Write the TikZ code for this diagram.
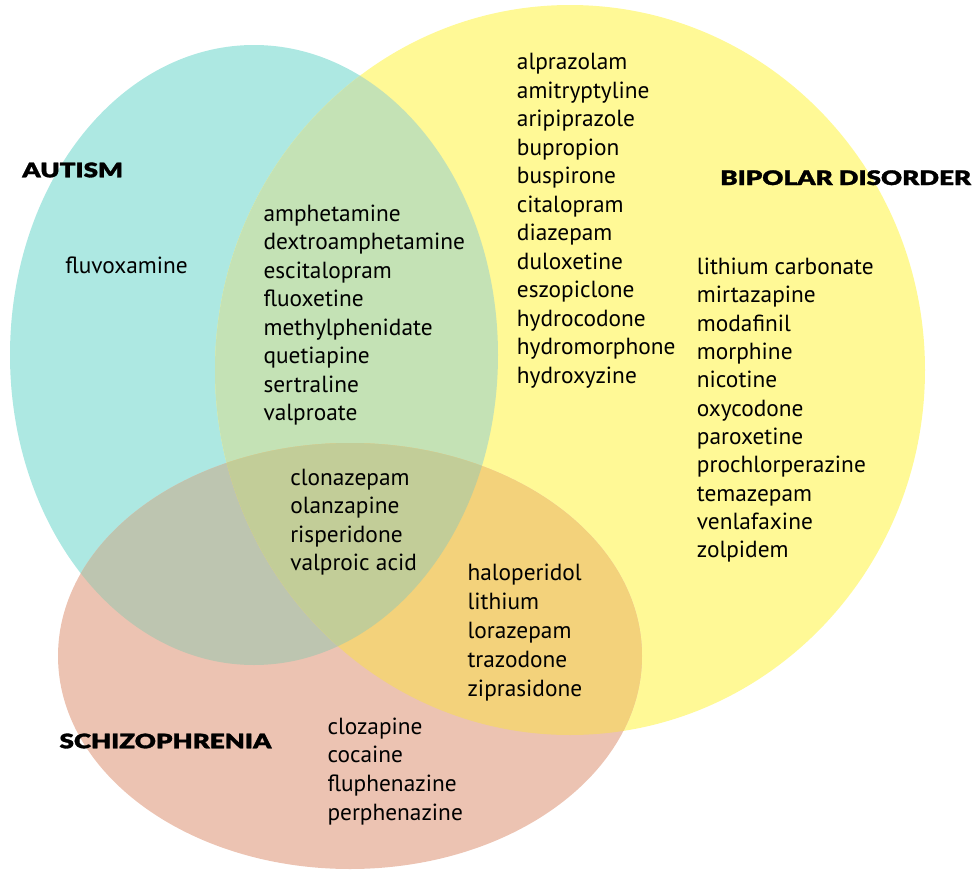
\documentclass[tikz,border=0pt]{standalone}
\usepackage{fontspec}
\setmainfont{PT Sans}
\newfontfamily\headfont{Lato}[UprightFont=* Black, FakeStretch=1.3, FakeBold=1.5]
\definecolor{autcol}{RGB}{173,232,226}
\definecolor{bipcol}{RGB}{255,249,150}
\definecolor{schcol}{RGB}{236,195,178}
\definecolor{abcol}{RGB}{196,226,181}
\definecolor{ascol}{RGB}{189,197,176}
\definecolor{bscol}{RGB}{243,210,123}
\definecolor{allcol}{RGB}{194,205,152}
\begin{document}
\begin{tikzpicture}[x=0.75pt,y=-0.75pt,
		drug/.style={anchor=base west,inner sep=0pt,font=\fontsize{17.5}{21}\selectfont},
		title/.style={anchor=base west,inner sep=0pt,font=\headfont\fontsize{15}{18}\selectfont}]
	\useasboundingbox (0,0) rectangle (976,871);
	\def\aut{(254,355) ellipse [x radius=244, y radius=310]}
	\def\bip{(570,370) ellipse [x radius=355, y radius=365]}
	\def\sch{(350,656) ellipse [x radius=292, y radius=213]}
	% circles
	\fill[autcol] \aut;
	\fill[bipcol] \bip;
	\fill[schcol] \sch;
	% overlaps
	\begin{scope} \clip \aut; \fill[abcol] \bip; \end{scope}
	\begin{scope} \clip \aut; \fill[ascol] \sch; \end{scope}
	\begin{scope} \clip \bip; \fill[bscol] \sch; \end{scope}
	\begin{scope} \clip \aut; \clip \bip; \fill[allcol] \sch; \end{scope}
	% titles
	\node[title] (autism) at (22,177.3) {AUTISM};
	\node[title] (bipolar) at (720,185) {BIPOLAR DISORDER};
	\node[title] (schizo) at (59.3,748.3) {SCHIZOPHRENIA};
	% drug lists
	\node[drug] (a0) at (65,273.3) {fluvoxamine};
	\foreach \n [count=\i from 0] in {amphetamine, dextroamphetamine, escitalopram, fluoxetine, methylphenidate, quetiapine, sertraline, valproate}
		\node[drug] (ab\i) at (263.3,221+28.5*\i) {\n};
	\foreach \n [count=\i from 0] in {alprazolam, amitryptyline, aripiprazole, bupropion, buspirone, citalopram, diazepam, duloxetine, eszopiclone, hydrocodone, hydromorphone, hydroxyzine}
		\node[drug] (bu\i) at (516.7,69.5+28.5*\i) {\n};
	\foreach \n [count=\i from 0] in {lithium carbonate, mirtazapine, modafinil, morphine, nicotine, oxycodone, paroxetine, prochlorperazine, temazepam, venlafaxine, zolpidem}
		\node[drug] (b\i) at (696.7,274.3+28.35*\i) {\n};
	\foreach \n [count=\i from 0] in {clonazepam, olanzapine, risperidone, valproic acid}
		\node[drug] (abs\i) at (290,485+28.5*\i) {\n};
	\foreach \n [count=\i from 0] in {haloperidol, lithium, lorazepam, trazodone, ziprasidone}
		\node[drug] (bs\i) at (467.3,580.7+29*\i) {\n};
	\foreach \n [count=\i from 0] in {clozapine, cocaine, fluphenazine, perphenazine}
		\node[drug] (s\i) at (327.3,734.3+28.6*\i) {\n};
\end{tikzpicture}
\end{document}
